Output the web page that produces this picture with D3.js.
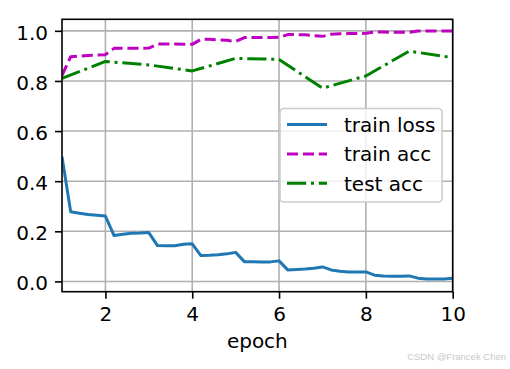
<!DOCTYPE html>
<html>
<head>
<meta charset="utf-8">
<script src="https://cdn.jsdelivr.net/npm/d3@7"></script>
<style>
  html, body { margin: 0; padding: 0; background: #fff; }
  svg { display: block; font-family: "DejaVu Sans", sans-serif; }
</style>
</head>
<body>
<svg id="chart" width="510" height="369"></svg>
<script>
// ---- data ----
const trainX = [1.0,1.2,1.4,1.6,1.8,2.0,2.2,2.4,2.6,2.8,3.0,3.2,3.4,3.6,3.8,4.0,4.2,4.4,4.6,4.8,5.0,
  5.2,5.4,5.6,5.8,6.0,6.2,6.4,6.6,6.8,7.0,7.2,7.4,7.6,7.8,8.0,8.2,8.4,8.6,8.8,9.0,9.2,9.4,9.6,9.8,10.0];
const trainLoss = [0.498,0.278,0.272,0.267,0.264,0.261,0.183,0.188,0.192,0.193,0.195,0.143,0.142,0.142,0.148,0.150,
  0.103,0.104,0.106,0.110,0.116,0.079,0.079,0.078,0.078,0.082,0.046,0.048,0.050,0.053,0.058,
  0.046,0.041,0.038,0.038,0.038,0.025,0.022,0.021,0.021,0.022,0.013,0.010,0.010,0.010,0.013];
const trainAcc = [0.822,0.897,0.899,0.902,0.903,0.905,0.930,0.930,0.930,0.930,0.931,0.947,0.947,0.947,0.946,0.946,
  0.966,0.966,0.964,0.962,0.958,0.973,0.973,0.973,0.973,0.974,0.985,0.985,0.984,0.981,0.978,
  0.986,0.988,0.989,0.989,0.990,0.995,0.995,0.994,0.994,0.994,0.999,0.999,0.999,0.999,0.999];
const testX = [1,2,3,4,5,6,7,8,9,10];
const testAcc = [0.810,0.878,0.864,0.840,0.890,0.886,0.771,0.820,0.919,0.893];
const xTicks = [2,4,6,8,10];
const yTicks = [0.0,0.2,0.4,0.6,0.8,1.0];
const legendLabels = ["train loss","train acc","test acc"];

// ---- layout ----
const svg = d3.select("#chart");
const L = 62, R = 452.7, T = 19.3, B = 291.7;
const x = d3.scaleLinear().domain([1,10]).range([L,R]);
const y = d3.scaleLinear().domain([-0.041,1.046]).range([B,T]);

const styles = [
  {color:"#1f77b4", dash:null},
  {color:"#bf00bf", dash:"11.1,4.8"},
  {color:"#008000", dash:"19.2,4.8,3,4.8"}
];

// grid
const g = svg.append("g");
g.selectAll(".vg").data(xTicks).join("line")
  .attr("x1", d=>x(d)).attr("x2", d=>x(d)).attr("y1", T).attr("y2", B)
  .attr("stroke", "#b0b0b0").attr("stroke-width", 1.6);
g.selectAll(".hg").data(yTicks).join("line")
  .attr("x1", L).attr("x2", R).attr("y1", d=>y(d)).attr("y2", d=>y(d))
  .attr("stroke", "#b0b0b0").attr("stroke-width", 1.6);

// clip
svg.append("clipPath").attr("id","clip").append("rect")
  .attr("x", L).attr("y", T).attr("width", R-L).attr("height", B-T);

const line = d3.line().x(d=>x(d[0])).y(d=>y(d[1]));
const series = [
  d3.zip(trainX, trainLoss),
  d3.zip(trainX, trainAcc),
  d3.zip(testX, testAcc)
];
const plot = svg.append("g").attr("clip-path","url(#clip)");
series.forEach((s,i)=>{
  plot.append("path").datum(s).attr("d", line)
    .attr("fill","none").attr("stroke", styles[i].color).attr("stroke-width", 3)
    .attr("stroke-dasharray", styles[i].dash)
    .attr("stroke-linejoin","round");
});

// axes
const xAxis = d3.axisBottom(x).tickValues(xTicks).tickSize(7).tickPadding(7).tickFormat(d3.format("d"));
const yAxis = d3.axisLeft(y).tickValues(yTicks).tickSize(7).tickPadding(7).tickFormat(d3.format(".1f"));
const gx = svg.append("g").attr("transform", `translate(0,${B})`).call(xAxis);
const gy = svg.append("g").attr("transform", `translate(${L},0)`).call(yAxis);
[gx, gy].forEach(a=>{
  a.select(".domain").remove();
  a.selectAll(".tick line").attr("stroke","#000").attr("stroke-width",1.6);
  a.selectAll(".tick text").attr("font-size", 20).attr("font-family","DejaVu Sans").attr("fill","#000");
});
gx.selectAll(".tick text").attr("dy", null).attr("y", 29);
gy.selectAll(".tick text").attr("dy", null).attr("y", 8.3);

// spines
svg.append("rect").attr("x", L).attr("y", T).attr("width", R-L).attr("height", B-T)
  .attr("fill","none").attr("stroke","#000").attr("stroke-width",1.6);

// x label
svg.append("text").attr("x", (L+R)/2).attr("y", 348).attr("text-anchor","middle")
  .attr("font-size", 20).text("epoch");

// legend
const lg = svg.append("g");
lg.append("rect").attr("x", 280).attr("y", 108.5).attr("width", 162).attr("height", 93.5)
  .attr("rx", 4).attr("fill","#fff").attr("fill-opacity",0.8)
  .attr("stroke","#cccccc").attr("stroke-width",1.6);
legendLabels.forEach((lab,i)=>{
  const cy = 124.5 + i*29.4;
  lg.append("line").attr("x1", 287).attr("x2", 327).attr("y1", cy).attr("y2", cy)
    .attr("stroke", styles[i].color).attr("stroke-width",3).attr("stroke-dasharray", styles[i].dash);
  lg.append("text").attr("x", 344).attr("y", cy + 7.3).attr("font-size", 20).text(lab);
});

// watermark
svg.append("text").attr("x", 506).attr("y", 360).attr("text-anchor","end")
  .attr("font-size", 9.5).attr("font-family","Liberation Sans, Arial, sans-serif")
  .attr("fill","#c8c8c8").text("CSDN @Francek Chen");
</script>
</body>
</html>
